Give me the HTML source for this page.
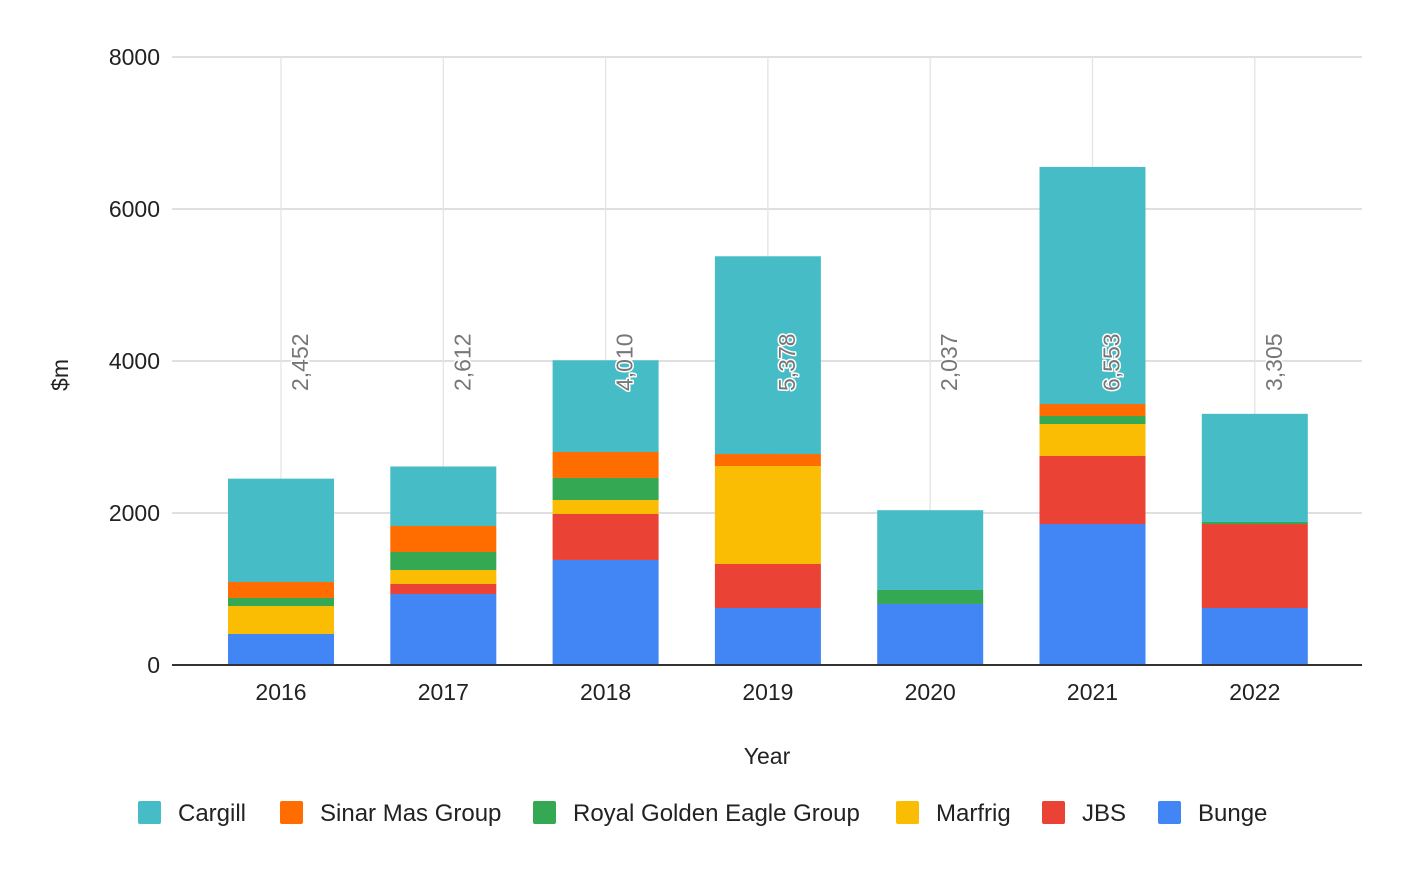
<!DOCTYPE html>
<html><head><meta charset="utf-8"><style>
body{margin:0;background:#fff;}
svg text{font-family:"Liberation Sans",Arial,sans-serif;}
</style></head><body>
<svg id="chart" width="1406" height="870" viewBox="0 0 1406 870" xmlns="http://www.w3.org/2000/svg">
<g id="grid"></g>
<g id="bars"></g>
<g id="labels"></g>
<g id="axes"></g>
<text x="0" y="0" transform="translate(68,375) rotate(-90)" text-anchor="middle" font-size="23" fill="#222">$m</text>
<text x="767" y="764" text-anchor="middle" font-size="23" fill="#222">Year</text>
<g id="legend"></g>
</svg>
<script>
const years = ["2016","2017","2018","2019","2020","2021","2022"];
const seriesNames = ["Bunge","JBS","Marfrig","Royal Golden Eagle Group","Sinar Mas Group","Cargill"];
const bunge = [408, 934, 1382, 750, 803, 1855, 750];
const jbs = [0, 132, 605, 579, 0, 895, 1105];
const marfrig = [368, 184, 184, 1289, 0, 421, 0];
const rge = [106, 237, 290, 0, 184, 105, 27];
const sinarMas = [210, 342, 342, 158, 0, 158, 0];
const cargill = [1360, 783, 1207, 2602, 1050, 3119, 1423];
const totalLabels = ["2,452","2,612","4,010","5,378","2,037","6,553","3,305"];
const yTicks = [0, 2000, 4000, 6000, 8000];
const seriesData = [bunge, jbs, marfrig, rge, sinarMas, cargill];
const colors = ["#4285f4","#ea4335","#fbbc04","#34a853","#ff6d01","#46bdc6"];
const NS = "http://www.w3.org/2000/svg";
const y = v => 665 - v * 608 / 8000;
const x = i => 281 + i * 162.3;
const barW = 106;
function mk(tag, attrs, parent){const e=document.createElementNS(NS,tag);for(const k in attrs)e.setAttribute(k,attrs[k]);parent.appendChild(e);return e;}
const grid=document.getElementById('grid'), bars=document.getElementById('bars'), labels=document.getElementById('labels'), axes=document.getElementById('axes'), legend=document.getElementById('legend');
yTicks.forEach(t=>{
  const l=mk('line',{x1:172,x2:1362,y1:y(t),y2:y(t),stroke:t===0?'#333':'#ccc','stroke-width':t===0?2:1.3},t===0?axes:grid);
  
  
  const tx=mk('text',{x:160,y:y(t)+8,'text-anchor':'end','font-size':23,fill:'#222'},axes);
  tx.textContent=t;
  
  
});
years.forEach((yr,i)=>{
  const vl=mk('line',{x1:x(i),x2:x(i),y1:57,y2:665,stroke:'#e4e4e4','stroke-width':1.3},grid);
  
  
  let cum=0;
  seriesData.forEach((s,k)=>{
    const v=s[i]; if(v<=0) return;
    const r=mk('rect',{x:x(i)-barW/2,y:y(cum+v),width:barW,height:y(cum)-y(cum+v),fill:colors[k]},bars);
    
    
    cum+=v;
  });
  const lab=mk('text',{x:0,y:0,transform:`translate(${x(i)+27},391) rotate(-90)`,'font-size':23,fill:'#777',stroke:'#fff','stroke-width':3,'paint-order':'stroke','stroke-linejoin':'round'},labels);
  lab.textContent=totalLabels[i];
  
  
  const xt=mk('text',{x:x(i),y:700,'text-anchor':'middle','font-size':23,fill:'#222'},axes);
  xt.textContent=yr;
  
  
});
const legOrder=[5,4,3,2,1,0];
const legX=[138,280,533,896,1042,1158];
legOrder.forEach((k,j)=>{
  const g=mk('g',{},legend);
  
  
  mk('rect',{x:legX[j],y:801,width:23,height:23,rx:2,fill:colors[k]},g);
  const t=mk('text',{x:legX[j]+40,y:821,'font-size':24,fill:'#222'},g);
  t.textContent=seriesNames[k];
});
</script>
</body></html>
